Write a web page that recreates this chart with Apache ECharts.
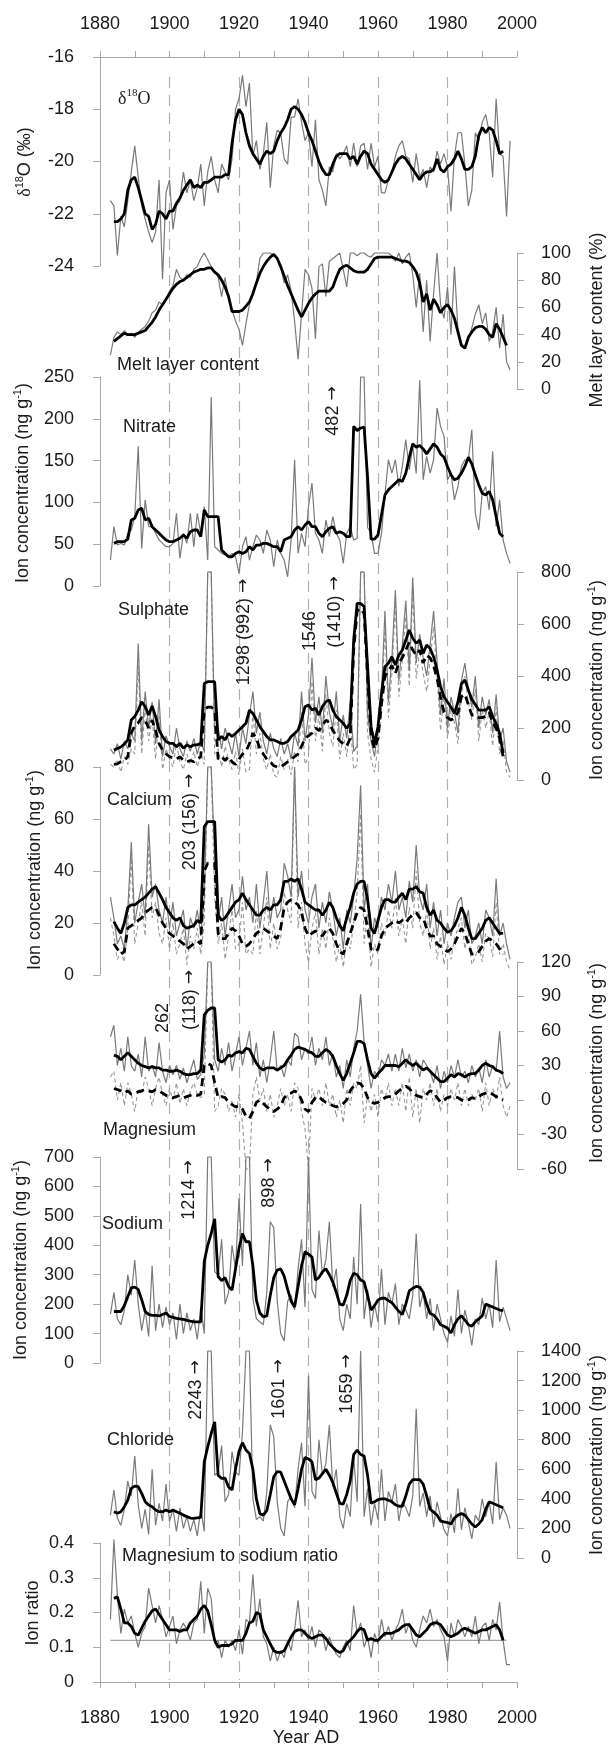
<!DOCTYPE html>
<html>
<head>
<meta charset="utf-8">
<script src="https://cdn.jsdelivr.net/npm/echarts@6.0.0/dist/echarts.min.js"></script>
<style>
html, body { margin: 0; padding: 0; background: #fff; }
#chart { width: 608px; height: 1749px; }
</style>
</head>
<body>
<div id="chart"></div>
<script>
// ---- data (annual values start 1883, smoothed values start 1884) ----
const yearTicks = [1880, 1900, 1920, 1940, 1960, 1980, 2000];

const d18oAnnual = [-21.5,-21.7,-23.6,-22.1,-22.5,-21.5,-20.4,-19.4,-20.6,-21.7,
  -22.2,-22.7,-23.1,-22.7,-20.7,-24.5,-21.2,-20.7,-22.6,-21.7,
  -21.5,-20.4,-21.2,-20.7,-21.5,-21.0,-20.1,-21.7,-20.4,-19.8,
  -20.7,-21.2,-20.1,-20.4,-20.7,-19.9,-18.0,-17.6,-16.7,-17.9,
  -17.0,-19.8,-19.2,-20.3,-19.7,-18.5,-21.0,-19.4,-18.8,-18.9,
  -19.9,-20.1,-18.3,-18.3,-17.6,-18.5,-19.2,-18.9,-20.2,-18.4,
  -20.7,-21.1,-21.7,-20.2,-20.4,-19.7,-19.9,-19.7,-19.4,-20.2,
  -19.3,-20.2,-19.4,-19.3,-20.3,-19.3,-20.2,-19.8,-21.2,-21.2,
  -20.7,-20.4,-19.8,-19.4,-19.2,-19.8,-19.9,-20.8,-19.7,-20.6,
  -20.3,-21.0,-20.2,-20.4,-19.6,-20.1,-19.7,-20.2,-21.9,-19.8,
  -18.9,-18.9,-20.1,-21.7,-21.1,-18.9,-19.2,-18.5,-18.2,-18.9,
  -20.6,-17.6,-19.7,-19.8,-22.1,-19.2];
const d18oSmooth = [-22.3,-22.3,-22.2,-22.0,-21.1,-20.7,-20.6,-21.0,-21.5,-22.0,
  -22.1,-22.6,-22.4,-21.9,-22.0,-22.2,-21.9,-21.9,-21.6,-21.4,
  -21.1,-20.9,-20.7,-21.0,-20.9,-21.0,-20.8,-20.8,-20.7,-20.6,
  -20.6,-20.6,-20.5,-20.5,-19.3,-18.4,-18.0,-18.2,-18.9,-19.4,
  -19.7,-19.9,-20.1,-19.8,-19.6,-19.7,-19.6,-19.2,-18.9,-18.7,
  -18.4,-18.0,-17.9,-18.0,-18.2,-18.5,-18.9,-19.2,-19.6,-20.0,
  -20.3,-20.5,-20.5,-20.1,-19.8,-19.7,-19.7,-19.7,-19.9,-19.8,
  -20.1,-19.8,-19.6,-19.7,-20.1,-20.3,-20.5,-20.7,-20.8,-20.7,
  -20.4,-20.1,-19.9,-19.8,-19.9,-20.1,-20.3,-20.5,-20.7,-20.5,
  -20.4,-20.4,-20.3,-19.9,-20.3,-20.4,-20.2,-20.1,-19.9,-19.6,
  -19.9,-20.3,-20.3,-20.2,-19.8,-19.0,-18.7,-18.9,-18.7,-18.8,
  -19.2,-19.7,-19.6];

const meltAnnual = [25,38,42,40,43,40,41,38,42,44,
  46,50,56,58,64,62,66,72,76,88,
  82,80,84,82,88,90,96,100,95,90,
  86,82,68,82,66,58,50,44,32,48,
  62,72,78,96,100,100,100,98,96,90,
  78,84,72,50,22,55,88,84,74,37,
  90,92,68,94,96,98,100,88,75,100,
  100,98,100,100,98,97,100,100,100,100,
  100,98,94,100,92,97,100,84,60,85,
  42,80,35,70,100,62,52,75,40,90,
  44,34,30,36,45,55,62,48,56,35,
  42,60,30,55,20,14];
const meltSmooth = [35,37,39,41,40,40,40,41,42,43,
  46,49,53,58,62,66,70,74,77,79,
  80,82,84,86,87,88,88,89,89,86,
  84,80,75,68,57,57,57,58,61,64,
  70,78,85,90,94,97,99,96,90,83,
  76,70,64,58,53,58,63,67,70,72,
  72,72,72,75,82,88,90,91,89,87,
  86,86,86,88,92,96,97,97,97,97,
  97,96,95,94,94,93,90,86,78,64,
  70,58,66,62,56,60,62,58,52,42,
  32,30,38,42,45,46,46,44,40,38,
  48,44,38,32];

const nitrateAnnual = [31,71,49,51,49,63,67,83,167,45,
  103,71,71,63,55,51,47,47,51,87,
  33,63,51,87,47,87,63,95,31,226,
  47,43,39,37,35,39,35,15,47,59,
  31,47,61,55,39,67,55,23,55,39,
  31,11,55,151,39,63,47,95,123,63,
  55,39,79,59,83,63,55,27,63,71,
  55,57,250,250,70,63,39,39,63,109,
  151,135,151,119,143,175,139,167,135,246,
  127,155,135,151,213,191,179,127,135,103,
  119,143,151,151,187,87,67,111,119,91,
  161,71,103,55,39,27];
const nitrateSmooth = [51,53,53,53,56,79,81,91,93,79,
  81,71,67,63,59,55,53,53,55,57,
  61,57,65,67,67,59,91,83,83,83,
  83,43,39,35,35,39,41,39,41,47,
  43,49,49,51,51,49,47,47,41,55,
  57,59,67,71,67,73,77,71,71,63,
  59,65,69,71,63,65,63,59,59,191,
  186,189,190,130,56,56,61,85,109,115,
  119,123,127,125,135,154,170,166,168,164,
  158,164,170,166,158,154,143,133,127,129,
  135,143,154,146,133,121,111,109,113,103,
  83,63,59];

const sulphateAnnual = [120,100,140,80,150,120,180,150,525,150,
  340,200,300,140,310,90,170,130,100,200,
  120,90,150,110,160,100,150,110,800,800,
  180,200,120,200,150,100,180,90,200,140,
  250,340,180,260,150,100,180,120,90,160,
  100,140,80,180,130,340,150,250,470,220,
  320,180,400,260,200,340,150,250,160,300,
  110,130,800,800,250,150,90,200,330,650,
  300,470,730,380,520,690,420,780,450,560,
  470,400,520,650,460,250,390,200,320,260,
  180,380,450,350,280,400,200,320,250,310,
  180,330,150,200,70,30];
const nssSulphateAnnual = [60,50,80,30,90,60,120,100,440,100,
  280,150,240,80,250,40,120,80,50,140,
  70,40,100,60,110,50,100,60,800,800,
  100,120,50,130,80,40,110,20,120,30,
  40,260,100,180,80,40,100,20,10,90,
  40,80,20,110,70,260,60,90,380,150,
  250,110,330,180,130,270,80,180,90,230,
  40,60,800,800,180,80,30,130,270,590,
  240,410,670,320,460,630,360,720,390,500,
  410,340,460,590,400,190,330,160,270,220,
  140,330,400,300,230,350,150,270,200,260,
  130,280,100,150,30,10];
const sulphateSmooth = [115,121,127,138,154,231,244,269,301,282,
  250,285,244,192,167,148,141,141,128,141,
  122,135,128,135,135,141,371,378,378,378,
  154,167,154,179,167,179,192,205,218,269,
  256,231,205,186,167,154,154,148,141,141,
  148,167,179,192,231,282,288,269,276,250,
  282,301,308,269,244,231,218,199,218,538,
  679,679,667,436,205,141,205,333,436,449,
  474,442,481,500,538,577,545,526,538,487,
  519,506,474,423,359,320,300,280,256,300,
  370,385,346,310,290,269,269,269,282,244,
  218,179,103];
const nssSulphateSmooth = [60,62,70,75,90,180,210,220,240,230,
  200,230,190,140,115,100,90,85,80,90,
  75,70,75,70,80,90,270,280,280,270,
  80,90,75,90,70,60,80,100,110,140,
  180,160,120,100,80,70,55,50,50,60,
  70,80,90,100,130,160,170,180,200,190,
  210,230,220,190,170,150,140,130,160,500,
  650,660,640,400,170,120,160,290,400,420,
  440,410,450,470,500,530,500,480,500,450,
  480,470,440,390,320,260,240,230,240,260,
  320,330,290,250,250,240,240,245,260,220,
  200,160,90];

const calciumAnnual = [30,22,12,15,10,25,51,20,28,35,
  22,58,30,35,25,20,30,18,28,15,
  20,25,10,22,18,25,15,30,80,80,
  45,20,30,15,25,35,22,25,38,25,
  30,20,35,18,28,40,20,30,22,25,
  43,38,30,80,30,40,25,20,30,35,
  18,28,20,32,25,15,22,10,25,20,
  30,45,73,25,35,10,22,18,30,25,
  35,28,40,25,30,22,36,28,50,30,
  25,35,18,28,15,25,12,20,15,22,
  28,30,18,25,12,15,20,12,25,22,
  15,37,15,20,12,6];
const nssCalciumAnnual = [22,15,6,9,5,18,45,12,20,28,
  15,50,22,28,16,12,22,10,20,8,
  12,18,4,15,10,18,8,20,80,80,
  30,12,20,6,15,25,10,12,28,8,
  10,8,25,8,18,30,10,20,10,14,
  32,25,20,80,18,28,12,5,18,24,
  8,18,10,22,14,5,12,3,14,10,
  20,32,62,12,24,3,12,8,20,15,
  25,18,30,15,22,12,26,18,40,20,
  15,25,10,18,6,15,4,12,6,14,
  18,22,10,16,4,7,12,5,16,14,
  7,28,8,12,5,2];
const calciumSmooth = [20.5,18,16,20,26,27,27,28,29,30,
  31.5,33,34,31.5,29,26,24,22,21,22,
  19,18,18.5,19,21,20,57,59,59,59,
  23,21,22,24,26,28,29,31.5,29,27,
  25,23,23,25,26,25,27,27,29,36,
  36,37,36,37,33,28,27,26,25,25,
  23,25,28,26,22,19,17,22,26,31.5,
  35,36,36,29,18,16,21,26,29,29,
  28,28,30,31.5,29,33,33,34,32,31.5,
  26,23,25,21,20,18,16.5,17,19,22,
  26,23,18,14,14,16,18,21,22,20,
  18,16,16];
const nssCalciumSmooth = [12,10,8,9,18,19,20,21,22,24,
  25,26,26,23,20,18,16,15,14,13,
  12,10,11,12,13,12,40,43,43,43,
  16,14,14,16,18,17,15,12,11,12,
  14,16,17,18,17,16,15,14,18,26,
  28,29,28,27,24,18,15,16,17,16,
  15,17,18,16,12,9,8,12,16,20,
  24,26,25,18,10,9,10,15,18,19,
  20,21,20,21,20,22,23,24,22,22,
  18,15,15,12,11,10,9,10,12,15,
  18,16,12,8,8,9,11,13,14,13,
  12,10,8];

const magnesiumAnnual = [55,65,30,45,25,55,30,25,40,20,
  55,25,30,20,50,25,15,30,22,30,
  18,28,15,25,35,18,22,40,120,120,
  35,25,45,30,50,25,40,55,30,45,
  60,30,50,20,35,15,35,60,25,30,
  20,35,30,58,55,35,45,40,55,30,
  45,35,55,30,40,20,30,10,35,20,
  45,60,92,50,30,10,25,20,35,30,
  40,25,40,25,45,28,40,25,35,20,
  35,30,25,15,30,10,25,15,30,20,
  35,20,25,15,30,20,28,15,35,20,
  30,25,60,20,10,15];
const nssMagnesiumAnnual = [20,25,0,15,-5,15,5,-10,10,5,
  20,10,-5,10,20,5,-5,10,0,15,
  -3,10,-5,8,15,5,2,5,118,118,
  -10,-5,10,5,-10,0,-15,5,-20,-60,
  -60,5,20,0,10,-10,5,-15,-5,10,
  -5,5,-10,15,10,-10,-25,-60,10,0,
  10,-5,15,-5,5,-15,0,-20,10,-5,
  15,10,30,-20,5,-10,5,-15,10,0,
  15,-5,10,-5,15,-10,20,-15,10,-20,
  10,0,15,-5,10,-10,5,-5,10,0,
  15,-5,10,-5,5,0,10,-10,15,-5,
  10,0,20,-5,-15,-5];
const magnesiumSmooth = [39,38,35,38,41,38,35,32,30,29,
  28,29,28,28,26,26,25,25,26,25,
  23,22,22,23,23,26,74,78,80,80,
  35,33,35,39,38,41,42,41,45,44,
  38,32,28,26,28,28,28,26,28,30,
  35,39,44,46,45,44,42,41,38,38,
  41,44,42,38,30,23,17,23,32,41,
  51,51,49,35,23,19,23,26,30,30,
  30,30,29,32,35,32,30,32,29,26,
  28,25,22,19,16,16,19,22,20,23,
  22,20,22,23,23,26,30,32,30,29,
  26,25,23];
const nssMagnesiumSmooth = [10,9,8,6,8,5,6,7,8,9,
  8,7,9,8,6,4,3,2,3,4,
  2,3,4,5,4,5,30,32,30,15,
  2,3,2,-2,-4,-6,-5,-8,-14,-16,
  -10,-2,0,-3,-6,-8,-10,-8,-5,2,
  5,6,8,6,0,-8,-10,-2,2,3,
  0,-2,-3,-5,-6,-5,-3,0,8,12,
  15,14,10,2,-2,-3,-2,0,2,3,
  3,5,8,10,12,10,6,4,3,2,
  5,8,7,2,-2,0,2,3,3,2,
  0,-1,0,2,1,3,5,6,7,5,
  3,2,0];

const sodiumAnnual = [165,240,150,130,180,300,230,350,200,110,
  180,90,330,110,200,120,190,130,170,80,
  200,100,170,110,150,80,190,100,700,700,
  310,300,420,200,240,400,320,560,330,700,
  700,220,150,140,130,240,480,460,210,100,
  75,210,230,180,320,420,190,700,250,220,
  450,300,350,480,260,320,150,110,200,150,
  360,200,540,150,250,120,200,140,320,130,
  240,200,270,130,200,180,150,230,440,190,
  240,150,220,110,200,150,100,70,160,90,
  250,100,180,130,60,150,130,220,150,200,
  120,350,140,190,150,110];
const sodiumSmooth = [175,175,175,195,225,255,258,250,215,175,
  165,162,162,160,165,170,158,155,152,150,
  148,145,142,140,140,140,345,400,440,490,
  294,280,290,260,248,320,390,440,412,412,
  330,214,170,157,160,230,290,316,320,295,
  250,210,190,260,330,378,370,360,282,290,
  310,320,300,275,240,200,197,230,280,305,
  300,282,276,230,180,195,214,220,220,212,
  205,190,175,165,200,245,254,260,258,240,
  200,168,163,150,130,125,118,102,130,150,
  160,146,130,125,140,150,160,200,195,190,
  185,180,178];

const chlorideAnnual = [290,460,270,220,330,520,420,690,360,200,
  330,160,600,220,370,250,500,250,330,180,
  340,200,280,180,260,150,330,180,1400,1400,
  560,580,760,380,430,720,580,560,850,1400,
  1400,400,260,280,250,450,900,820,380,200,
  150,380,420,340,600,780,350,1230,450,400,
  800,560,640,900,480,600,280,200,370,280,
  680,380,1400,280,470,220,370,260,600,250,
  450,380,500,250,380,340,280,420,1010,350,
  440,280,420,210,380,280,190,150,300,170,
  470,190,340,240,130,290,250,400,280,380,
  230,650,260,340,290,200];
const chlorideSmooth = [313,302,313,347,392,471,486,482,437,381,
  358,347,324,313,313,324,313,324,313,302,
  290,280,270,268,272,275,650,752,842,921,
  560,538,540,480,460,600,720,780,730,707,
  600,400,300,290,320,430,550,585,580,520,
  460,400,360,470,600,680,670,650,530,540,
  570,600,560,510,440,370,365,430,520,700,
  730,700,690,560,370,380,395,400,400,390,
  380,360,350,350,420,500,530,530,530,500,
  420,330,310,290,250,245,240,230,270,290,
  300,290,260,230,210,230,260,330,380,370,
  360,350,340];

const ratioAnnual = [0.18,0.41,0.25,0.14,0.21,0.17,0.19,0.14,0.10,0.14,
  0.16,0.27,0.22,0.17,0.22,0.18,0.13,0.16,0.19,0.11,
  0.15,0.17,0.15,0.12,0.17,0.18,0.29,0.14,0.27,0.24,
  0.11,0.12,0.07,0.12,0.10,0.12,0.09,0.15,0.08,0.18,
  0.17,0.31,0.16,0.24,0.13,0.11,0.06,0.10,0.06,0.09,
  0.07,0.12,0.09,0.15,0.235,0.13,0.15,0.12,0.16,0.10,
  0.15,0.14,0.09,0.13,0.10,0.08,0.07,0.10,0.12,0.09,
  0.22,0.14,0.17,0.10,0.13,0.07,0.14,0.11,0.18,0.13,
  0.16,0.12,0.15,0.17,0.21,0.14,0.17,0.12,0.10,0.15,
  0.19,0.17,0.21,0.16,0.18,0.15,0.13,0.06,0.17,0.13,
  0.18,0.16,0.13,0.16,0.13,0.19,0.11,0.16,0.17,0.12,
  0.18,0.15,0.23,0.12,0.05,0.05];
const ratioSmooth = [0.24,0.245,0.21,0.17,0.17,0.16,0.14,0.135,0.155,0.175,
  0.19,0.205,0.21,0.195,0.18,0.165,0.15,0.15,0.15,0.145,
  0.15,0.15,0.17,0.18,0.19,0.21,0.22,0.205,0.165,0.12,
  0.10,0.105,0.105,0.105,0.11,0.12,0.12,0.12,0.14,0.17,
  0.175,0.20,0.195,0.15,0.13,0.11,0.09,0.085,0.085,0.09,
  0.11,0.13,0.145,0.15,0.15,0.14,0.13,0.125,0.13,0.135,
  0.135,0.125,0.11,0.10,0.09,0.085,0.09,0.11,0.12,0.13,
  0.145,0.155,0.15,0.12,0.125,0.12,0.12,0.13,0.14,0.14,
  0.14,0.145,0.15,0.16,0.165,0.165,0.15,0.135,0.13,0.14,
  0.15,0.165,0.17,0.17,0.165,0.15,0.135,0.13,0.135,0.14,
  0.15,0.155,0.15,0.145,0.14,0.145,0.15,0.15,0.155,0.16,
  0.165,0.15,0.12];
const seawaterRatio = [[1883, 0.12], [1997, 0.12]];

// ---- layout (pixel positions of each panel's value axis) ----
const AX_L = 100, AX_R = 91;
const panels = [
  { top: 57,   bottom: 266,  min: -24, max: -16,  step: 2,   side: 'left'  },
  { top: 253,  bottom: 389,  min: 0,   max: 100,  step: 20,  side: 'right' },
  { top: 377,  bottom: 586,  min: 0,   max: 250,  step: 50,  side: 'left'  },
  { top: 572,  bottom: 780,  min: 0,   max: 800,  step: 200, side: 'right' },
  { top: 767,  bottom: 975,  min: 0,   max: 80,   step: 20,  side: 'left'  },
  { top: 962,  bottom: 1169, min: -60, max: 120,  step: 30,  side: 'right' },
  { top: 1157, bottom: 1363, min: 0,   max: 700,  step: 100, side: 'left'  },
  { top: 1351, bottom: 1558, min: 0,   max: 1400, step: 200, side: 'right' },
  { top: 1543, bottom: 1682, min: 0,   max: 0.4,  step: 0.1, side: 'left'  }
];

const AXIS_GREY = '#a8a8a8';
const TEXT = '#1a1a1a';
const FONT = '"Liberation Sans", Arial, sans-serif';
const FS = 18;

const toPairs = (start, arr) => arr.map((v, i) => [start + i, v]);

const grids = [{ left: AX_L, right: AX_R, top: 77, bottom: 1749 - 1680 }];
const xAxes = [{
  gridIndex: 0, type: 'value', min: 1880, max: 2000, interval: 20,
  axisLine: { show: false }, axisTick: { show: false }, axisLabel: { show: false },
  splitLine: { show: true, showMinLine: false, showMaxLine: false,
    lineStyle: { color: '#b0b0b0', width: 1.2, type: [11, 7] } }
}];
const yAxes = [{ gridIndex: 0, type: 'value', min: 0, max: 1, show: false }];

panels.forEach((p, i) => {
  const gi = i + 1;
  grids.push({ left: AX_L, right: AX_R, top: p.top, height: p.bottom - p.top });
  const isTop = i === 0, isBottom = i === panels.length - 1;
  xAxes.push({
    gridIndex: gi, type: 'value', min: 1880, max: 2000, interval: 10,
    show: isTop || isBottom,
    position: isTop ? 'top' : 'bottom',
    axisLine: { show: true, onZero: false, lineStyle: { color: AXIS_GREY, width: 1 } },
    axisTick: { show: true, length: 6, lineStyle: { color: AXIS_GREY } },
    axisLabel: {
      show: true, color: TEXT, fontSize: FS, fontFamily: FONT,
      margin: isTop ? 24 : 27,
      formatter: v => (yearTicks.indexOf(v) >= 0 ? String(v) : '')
    },
    splitLine: { show: false }
  });
  yAxes.push({
    gridIndex: gi, type: 'value', min: p.min, max: p.max, interval: p.step,
    position: p.side,
    axisLine: { show: true, lineStyle: { color: AXIS_GREY, width: 1 } },
    axisTick: { show: true, length: 7, lineStyle: { color: AXIS_GREY } },
    axisLabel: { color: TEXT, fontSize: FS, fontFamily: FONT, margin: p.side === 'left' ? 26 : 24,
      formatter: v => String(Math.round(v * 10) / 10) },
    splitLine: { show: false }
  });
});

const GREY = { color: '#7a7a7a', width: 1.2 };
const GREY_DASH = { color: '#979797', width: 1.1, type: [4, 3] };
const BLACK = { color: '#000', width: 2.8 };
const BLACK_DASH = { color: '#000', width: 2.8, type: [8, 5] };

function line(gi, data, style, z) {
  return {
    type: 'line', xAxisIndex: gi, yAxisIndex: gi, data: data,
    showSymbol: false, symbol: 'none', lineStyle: style, z: z,
    clip: false, silent: true, animation: false
  };
}

const series = [
  line(1, toPairs(1883, d18oAnnual), GREY, 2),
  line(1, toPairs(1884, d18oSmooth), BLACK, 4),
  line(2, toPairs(1883, meltAnnual), GREY, 2),
  line(2, toPairs(1884, meltSmooth), BLACK, 4),
  line(3, toPairs(1883, nitrateAnnual), GREY, 2),
  line(3, toPairs(1884, nitrateSmooth), BLACK, 4),
  line(4, toPairs(1883, nssSulphateAnnual), GREY_DASH, 2),
  line(4, toPairs(1883, sulphateAnnual), GREY, 2),
  line(4, toPairs(1884, nssSulphateSmooth), BLACK_DASH, 3),
  line(4, toPairs(1884, sulphateSmooth), BLACK, 4),
  line(5, toPairs(1883, nssCalciumAnnual), GREY_DASH, 2),
  line(5, toPairs(1883, calciumAnnual), GREY, 2),
  line(5, toPairs(1884, nssCalciumSmooth), BLACK_DASH, 3),
  line(5, toPairs(1884, calciumSmooth), BLACK, 4),
  line(6, toPairs(1883, nssMagnesiumAnnual), GREY_DASH, 2),
  line(6, toPairs(1883, magnesiumAnnual), GREY, 2),
  line(6, toPairs(1884, nssMagnesiumSmooth), BLACK_DASH, 3),
  line(6, toPairs(1884, magnesiumSmooth), BLACK, 4),
  line(7, toPairs(1883, sodiumAnnual), GREY, 2),
  line(7, toPairs(1884, sodiumSmooth), BLACK, 4),
  line(8, toPairs(1883, chlorideAnnual), GREY, 2),
  line(8, toPairs(1884, chlorideSmooth), BLACK, 4),
  line(9, seawaterRatio, { color: '#8a8a8a', width: 1 }, 1),
  line(9, toPairs(1883, ratioAnnual), GREY, 2),
  line(9, toPairs(1884, ratioSmooth), BLACK, 4)
];

// ---- texts ----
const richBase = {
  a: { fontSize: FS, fontFamily: FONT, fill: TEXT, color: TEXT, lineHeight: 22 },
  s: { fontSize: 11, fontFamily: FONT, fill: TEXT, color: TEXT, verticalAlign: 'top' },
  d: { fontSize: FS, fontFamily: '"Liberation Serif", "Times New Roman", serif', fill: TEXT, color: TEXT, lineHeight: 22 },
  ds: { fontSize: 11, fontFamily: '"Liberation Serif", serif', fill: TEXT, color: TEXT, verticalAlign: 'top' },
  r: { fontSize: 17, fontFamily: '"DejaVu Sans", sans-serif', fill: TEXT, color: TEXT, lineHeight: 22 }
};
function txt(x, y, text, rot, align, color) {
  return {
    type: 'text', x: x, y: y, rotation: rot ? Math.PI / 2 : 0, silent: true, z: 100,
    style: {
      text: text, rich: richBase, fill: color || TEXT,
      fontSize: FS, fontFamily: FONT,
      align: align || 'left', verticalAlign: 'middle',
      textAlign: align || 'left', textVerticalAlign: 'middle'
    }
  };
}
// rotated off-scale note: value text followed by an upward arrow
const note = (x, y, label) => txt(x, y, '{a|' + label + ' }{r|→}', true, 'center');
const ionTitle = '{a|Ion concentration (ng g}{s|-1}{a|)}';
const graphics = [
  // panel labels
  txt(118, 99, '{d|δ}{ds|18}{d|O}'),
  txt(117, 365, 'Melt layer content'),
  txt(123, 427, 'Nitrate'),
  txt(118, 610, 'Sulphate'),
  txt(107, 800, 'Calcium'),
  txt(103, 1130, 'Magnesium'),
  txt(102, 1224, 'Sodium'),
  txt(107, 1440, 'Chloride'),
  txt(122, 1556, 'Magnesium to sodium ratio'),
  // axis titles
  txt(25, 162, '{d|δ}{s|18}{a|O (‰)}', true, 'center', '#333'),
  txt(597, 320, 'Melt layer content (%)', true, 'center'),
  txt(23, 483, ionTitle, true, 'center'),
  txt(597, 680, ionTitle, true, 'center'),
  txt(35, 870, ionTitle, true, 'center'),
  txt(597, 1063, ionTitle, true, 'center'),
  txt(21, 1260, ionTitle, true, 'center'),
  txt(597, 1455, ionTitle, true, 'center'),
  txt(33, 1613, 'Ion ratio', true, 'center'),
  txt(306, 1738, 'Year AD', false, 'center'),
  // off-scale annotations
  note(333, 411, '482'),
  note(244, 632, '1298 (992)'),
  txt(310, 631, '1546', true, 'center'),
  note(335, 612, '(1410)'),
  note(190, 822, '203 (156)'),
  txt(163, 1018, '262', true, 'center'),
  note(190, 1000, '(118)'),
  note(189, 1190, '1214'),
  note(269, 1183, '898'),
  note(196, 1390, '2243'),
  note(279, 1389, '1601'),
  note(347, 1384, '1659')
];

const chart = echarts.init(document.getElementById('chart'), null, { renderer: 'canvas' });
chart.setOption({
  backgroundColor: '#fff',
  animation: false,
  grid: grids,
  xAxis: xAxes,
  yAxis: yAxes,
  series: series,
  graphic: { elements: graphics }
});
</script>
</body>
</html>
